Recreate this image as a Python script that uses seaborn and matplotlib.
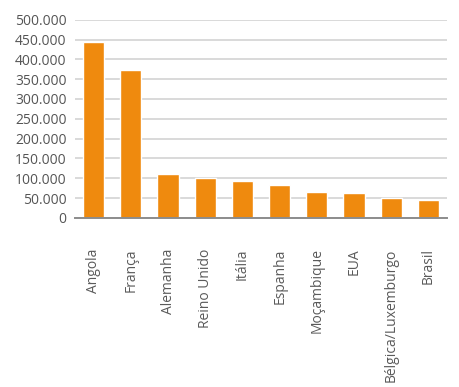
import matplotlib
matplotlib.use("Agg")
import matplotlib.pyplot as plt
import matplotlib.ticker as mticker
import seaborn as sns
import pandas as pd

# values
paises = ['Angola', 'França', 'Alemanha', 'Reino Unido', 'Itália', 'Espanha',
          'Moçambique', 'EUA', 'Bélgica/Luxemburgo', 'Brasil']
valores = [445000, 374000, 111000, 101000, 93000, 83000, 65000, 62000, 50000, 45000]

df = pd.DataFrame({'pais': paises, 'valor': valores})

sns.set_theme(style='white')
plt.rcParams['font.family'] = ['Open Sans', 'DejaVu Sans']

fig = plt.figure(figsize=(4.6, 3.87), dpi=100)
ax = fig.add_axes([0.163, 0.437, 0.809, 0.512])

sns.barplot(data=df, x='pais', y='valor', color='#ef8a0e', width=0.57,
            saturation=1, ax=ax, zorder=3)

ax.set_ylim(0, 500000)
ax.set_yticks(range(0, 500001, 50000))
ax.yaxis.set_major_formatter(mticker.FuncFormatter(
    lambda v, p: '0' if v == 0 else f'{int(v):,}'.replace(',', '.')))
ax.grid(axis='y', color='#d9d9d9', linewidth=1.4, zorder=0)
ax.set_axisbelow(True)

for s in ['top', 'right', 'left']:
    ax.spines[s].set_visible(False)
ax.spines['bottom'].set_color('#8c8c8c')
ax.spines['bottom'].set_linewidth(1.4)
ax.spines['bottom'].set_zorder(4)

ax.set_xlabel('')
ax.set_ylabel('')
ax.tick_params(axis='x', rotation=90, length=0, pad=22, labelsize=10, colors='#5a5a5a')
ax.tick_params(axis='y', length=0, pad=6, labelsize=10, colors='#555555')
for lbl in ax.get_xticklabels():
    lbl.set_va('top')

fig.savefig('out.png', dpi=100)
